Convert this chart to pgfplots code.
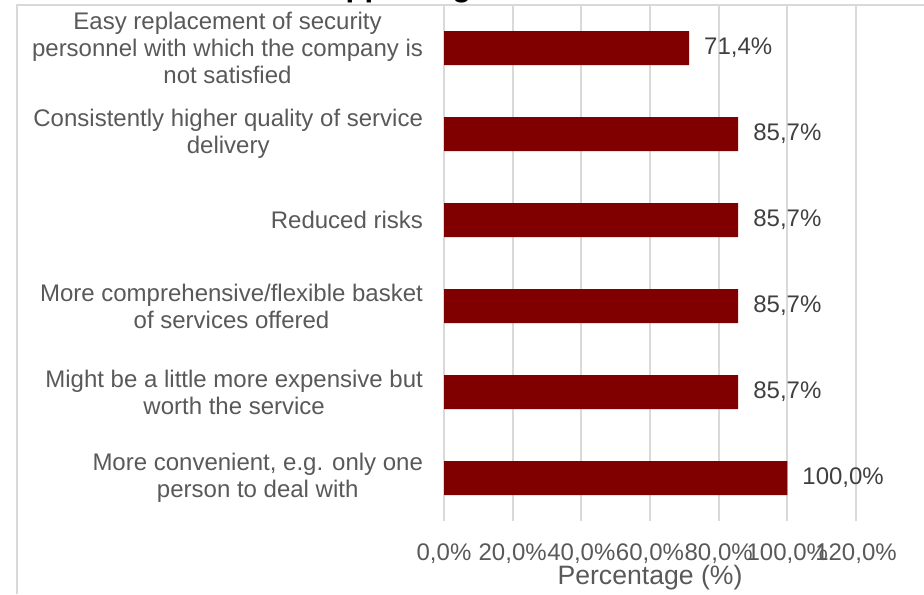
\documentclass[border=0pt]{standalone}
\usepackage{fontspec}
\setmainfont{Liberation Sans}
\usepackage{pgfplots}
\pgfplotsset{compat=1.18}
\definecolor{barred}{HTML}{800000}
\definecolor{gridgray}{HTML}{D9D9D9}
\definecolor{lbl}{HTML}{595959}
\definecolor{dlbl}{HTML}{404040}
\begin{document}
\begin{tikzpicture}
\draw[gridgray, line width=0.8pt] (8.5pt,0pt) -- (8.5pt,294.5pt) -- (462pt,294.5pt);
\node[anchor=base west, inner sep=0pt, font=\bfseries\fontsize{15.5}{18}\selectfont] at (154.5pt,298.75pt) {supporting};
\begin{axis}[
  at={(222pt,36.5pt)}, anchor=south west,
  scale only axis, width=206pt, height=258pt,
  xbar, bar width=17pt,
  xmin=0, xmax=120, ymin=-0.5, ymax=5.5,
  xtick={0,20,40,60,80,100,120},
  xticklabels={{0,0\%},{20,0\%},{40,0\%},{60,0\%},{80,0\%},{100,0\%},{120,0\%}},
  ytick={0,1,2,3,4,5},
  yticklabels={{More convenient, e.g. only one\\person to deal with},
               {Might be a little more expensive but\\worth the service},
               {More comprehensive/flexible basket\\of services offered},
               {Reduced risks},
               {Consistently higher quality of service\\delivery},
               {Easy replacement of security\\personnel with which the company is\\not satisfied}},
  axis line style={draw=none},
  major tick length=0pt,
  xmajorgrids, major grid style={gridgray, line width=0.9pt},
  every tick label/.append style={font=\fontsize{12}{13.5}\selectfont, text=lbl},
  yticklabel style={align=center, xshift=-7pt},
  xticklabel style={yshift=-8pt},
  xlabel={Percentage (\%)},
  xlabel style={at={(axis description cs:0.5,0)}, anchor=center, yshift=-28.5pt, font=\fontsize{13.3}{15}\selectfont, text=lbl},
  nodes near coords,
  point meta=explicit symbolic,
  every node near coord/.append style={font=\fontsize{12}{13.5}\selectfont, text=dlbl, anchor=west, xshift=4pt},
]
\addplot[fill=barred, draw=none] coordinates {
  (100,0) [100,0\%]
  (85.7,1) [85,7\%]
  (85.7,2) [85,7\%]
  (85.7,3) [85,7\%]
  (85.7,4) [85,7\%]
  (71.4,5) [71,4\%]
};
\end{axis}
\pgfresetboundingbox
\useasboundingbox (0pt,0pt) rectangle (462pt,297pt);
\end{tikzpicture}
\end{document}
